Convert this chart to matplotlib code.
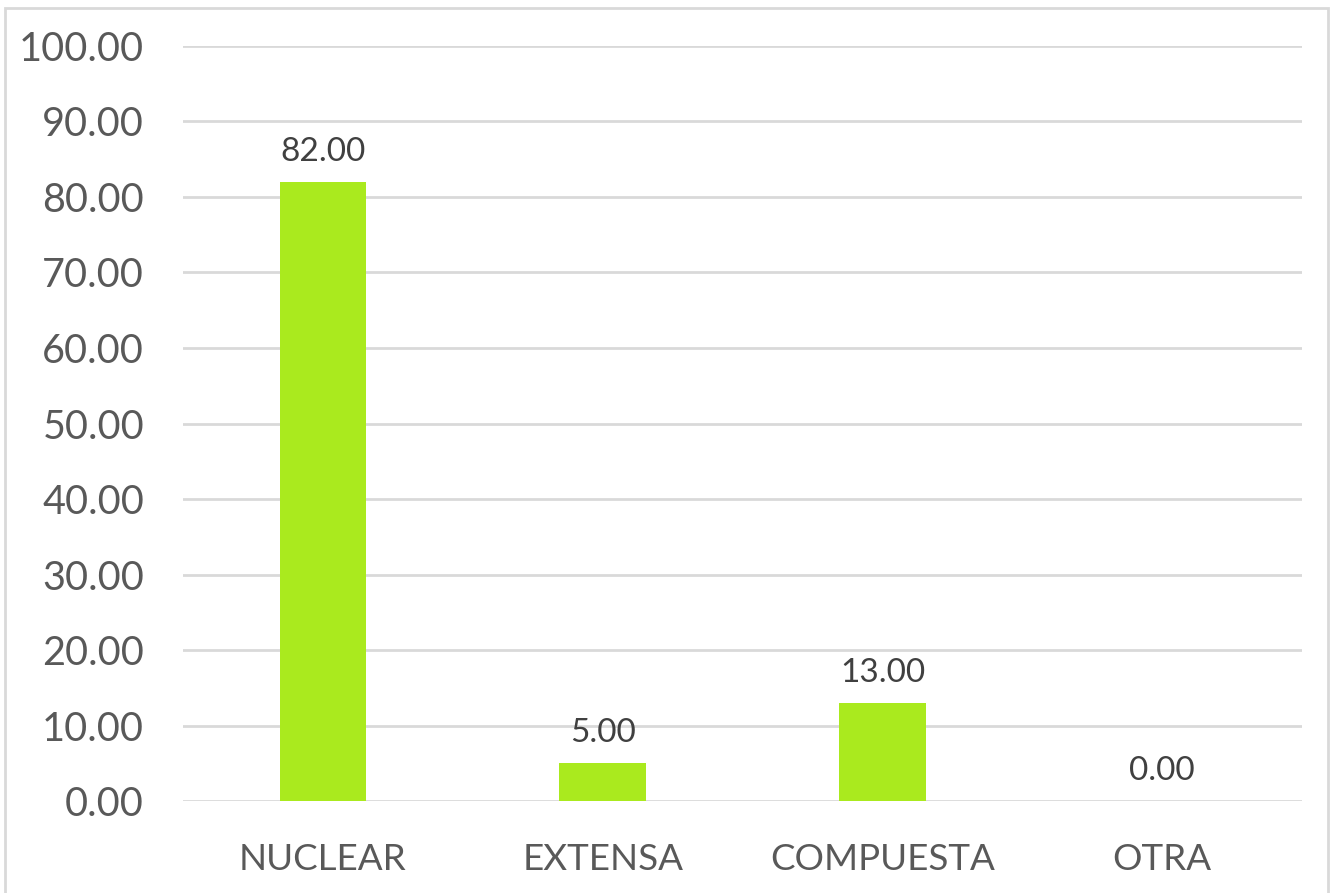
import matplotlib.pyplot as plt
import matplotlib.patches as patches

categorias = ['NUCLEAR', 'EXTENSA', 'COMPUESTA', 'OTRA']
valores = [82.00, 5.00, 13.00, 0.00]
yticks = [0, 10, 20, 30, 40, 50, 60, 70, 80, 90, 100]

plt.rcParams['font.family'] = ['Lato', 'DejaVu Sans']
gris = '#595959'

fig = plt.figure(figsize=(13.3, 8.93), dpi=100)
ax = fig.add_axes([0.1376, 0.1030, 0.8414, 0.8455])

x = range(len(categorias))
barras = ax.bar(x, valores, width=0.31, color='#AAEA1E', zorder=3)

for b, v in zip(barras, valores):
    ax.annotate('%.2f' % v, (b.get_x() + b.get_width() / 2, v),
                xytext=(0, 11), textcoords='offset points',
                ha='center', va='bottom', fontsize=24, color='#404040')

ax.set_xlim(-0.5, len(categorias) - 0.5)
ax.set_ylim(0, 100)
ax.set_yticks(yticks)
ax.set_yticklabels(['%.2f' % t for t in yticks])
ax.set_xticks(list(x))
ax.set_xticklabels(categorias)
ax.tick_params(axis='y', length=0, pad=28, labelsize=28.5, labelcolor=gris)
ax.tick_params(axis='x', length=0, pad=30, labelsize=26.5, labelcolor=gris)
ax.grid(axis='y', color='#D9D9D9', linewidth=2, zorder=0)
for s in ax.spines.values():
    s.set_visible(False)

# marco del grafico
fig.patches.append(patches.Rectangle((5 / 1330, -0.05), 1323 / 1330, 1 - 8 / 893 + 0.05,
                                     transform=fig.transFigure, fill=False,
                                     edgecolor='#D9D9D9', linewidth=2))

fig.savefig('out.png', dpi=100)
